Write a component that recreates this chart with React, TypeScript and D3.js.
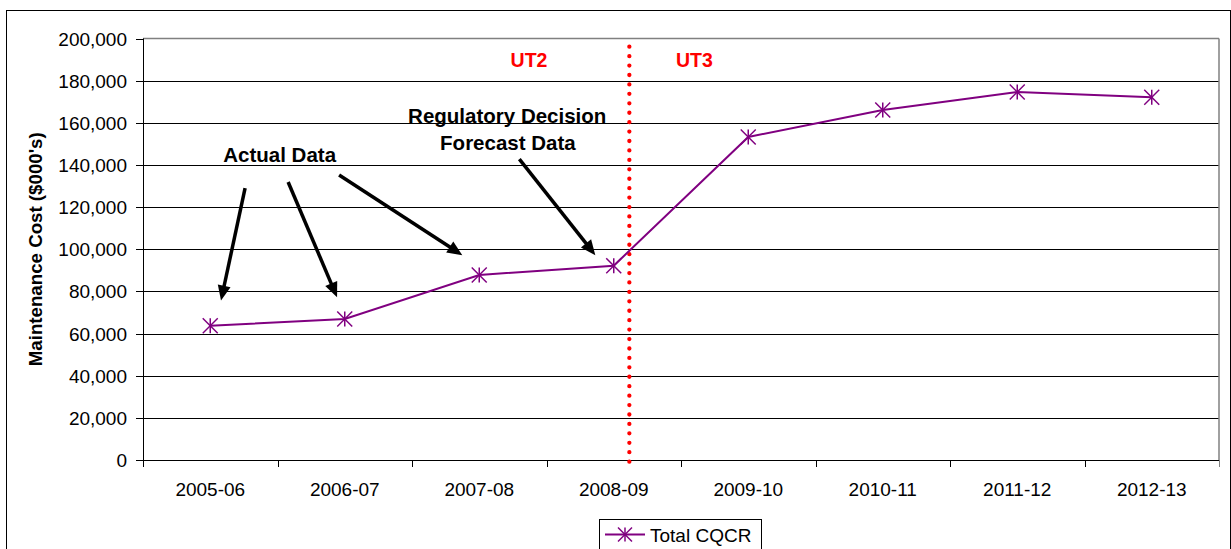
import React from "react";
import * as d3 from "d3";

const categories = ["2005-06", "2006-07", "2007-08", "2008-09", "2009-10", "2010-11", "2011-12", "2012-13"];
const totalCQCR = [63700, 66900, 87800, 92200, 153300, 166100, 174600, 172100];
const yTicks = [0, 20000, 40000, 60000, 80000, 100000, 120000, 140000, 160000, 180000, 200000];
const seriesName = "Total CQCR";
const yLabel = "Maintenance Cost ($000's)";

// divider between regulatory periods (in category-band units) and its labels
const dividerPos = 3.616;
const dividerRange = [196100, -3300];
const periodLabels = [
  { text: "UT2", t: 2.87, v: 186500 },
  { text: "UT3", t: 4.1, v: 186500 },
];

// annotation texts (t = position in category bands, v = value at baseline)
const noteTexts = [
  { text: "Regulatory Decision", t: 2.708, v: 160000 },
  { text: "Forecast Data", t: 2.713, v: 147000 },
  { text: "Actual Data", t: 1.016, v: 141300 },
];
// annotation arrows: from (t1,v1) to tip (t2,v2)
const arrows = [
  { t1: 0.759, v1: 129000, t2: 0.58, v2: 75700 },
  { t1: 1.079, v1: 131900, t2: 1.443, v2: 77200 },
  { t1: 1.458, v1: 135200, t2: 2.374, v2: 97200 },
  { t1: 2.798, v1: 142800, t2: 3.363, v2: 97200 },
];

const W = 1231;
const H = 549;
const PURPLE = "#800080";
const FONT = "'Liberation Sans', Arial, sans-serif";

function Asterisk({ cx, cy, r }: { cx: number; cy: number; r: number }) {
  return (
    <g stroke={PURPLE} strokeWidth={1.5}>
      <line x1={cx} y1={cy - r} x2={cx} y2={cy + r} />
      <line x1={cx - r} y1={cy - r} x2={cx + r} y2={cy + r} />
      <line x1={cx - r} y1={cy + r} x2={cx + r} y2={cy - r} />
    </g>
  );
}

export default function App() {
  const left = 143;
  const right = 1219;
  const top = 38.5;
  const bottom = 460;

  const x = d3.scaleBand<string>().domain(categories).range([left, right]).padding(0);
  const y = d3.scaleLinear().domain([0, 200000]).range([bottom, top]);
  const pos = (t: number) => left + t * x.step();
  const cx = (c: string) => (x(c) as number) + x.bandwidth() / 2;
  const fmt = d3.format(",");

  const line = d3
    .line<number>()
    .x((_, i) => cx(categories[i]))
    .y((d) => y(d));

  const boundaries = d3.range(categories.length + 1).map((i) => left + i * x.step());

  return (
    <svg
      width={W}
      height={H}
      style={{ position: "absolute", left: 0, top: 0, background: "#fff" }}
      fontFamily={FONT}
    >
      <rect x={0} y={0} width={W} height={H} fill="#fff" />
      {/* outer chart border */}
      <rect x={6.5} y={10.5} width={1224} height={600} fill="none" stroke="#000" strokeWidth={1} />

      {/* gridlines */}
      {yTicks
        .filter((v) => v !== 0 && v !== 200000)
        .map((v) => (
          <line key={v} x1={left} x2={right} y1={Math.round(y(v)) + 0.5} y2={Math.round(y(v)) + 0.5} stroke="#000" strokeWidth={1} />
        ))}
      {/* plot area border top/right (grey) */}
      <line x1={left} x2={right} y1={top} y2={top} stroke="#808080" strokeWidth={1.5} />
      <line x1={right} x2={right} y1={top} y2={bottom} stroke="#808080" strokeWidth={1.5} />

      {/* y axis */}
      <line x1={left + 0.5} x2={left + 0.5} y1={top} y2={bottom} stroke="#000" strokeWidth={1} />
      {yTicks.map((v) => (
        <g key={v}>
          <line x1={left - 7} x2={left} y1={Math.round(y(v)) + 0.5} y2={Math.round(y(v)) + 0.5} stroke="#000" />
          <text x={127} y={y(v) + 7} textAnchor="end" fontSize={19} fill="#000">
            {fmt(v)}
          </text>
        </g>
      ))}
      {/* x axis */}
      <line x1={left} x2={right} y1={bottom + 0.5} y2={bottom + 0.5} stroke="#000" strokeWidth={1} />
      {boundaries.map((bx, i) => (
        <line key={i} x1={Math.round(bx) + 0.5} x2={Math.round(bx) + 0.5} y1={bottom} y2={bottom + 7} stroke={i === categories.length ? "#808080" : "#000"} />
      ))}
      {categories.map((c) => (
        <text key={c} x={cx(c)} y={496} textAnchor="middle" fontSize={19} fill="#000">
          {c}
        </text>
      ))}

      {/* y label */}
      <text
        transform={`translate(42,${(top + bottom) / 2}) rotate(-90)`}
        textAnchor="middle"
        fontSize={18.7}
        fontWeight="bold"
        fill="#000"
      >
        {yLabel}
      </text>

      {/* divider */}
      <line
        x1={pos(dividerPos)}
        x2={pos(dividerPos)}
        y1={y(dividerRange[0])}
        y2={y(dividerRange[1])}
        stroke="#ff0000"
        strokeWidth={4.3}
        strokeLinecap="round"
        strokeDasharray="0 9.43"
      />
      {periodLabels.map((p) => (
        <text key={p.text} x={pos(p.t)} y={y(p.v)} textAnchor="middle" fontSize={19.5} fontWeight="bold" fill="#ff0000">
          {p.text}
        </text>
      ))}

      {/* series */}
      <path d={line(totalCQCR) || ""} fill="none" stroke={PURPLE} strokeWidth={2} />
      {totalCQCR.map((v, i) => (
        <Asterisk key={i} cx={cx(categories[i])} cy={y(v)} r={7.5} />
      ))}

      {/* annotations */}
      {noteTexts.map((n) => (
        <text key={n.text} x={pos(n.t)} y={y(n.v)} textAnchor="middle" fontSize={20.5} fontWeight="bold" fill="#000">
          {n.text}
        </text>
      ))}
      {arrows.map((a, i) => {
        const x1 = pos(a.t1);
        const y1 = y(a.v1);
        const x2 = pos(a.t2);
        const y2 = y(a.v2);
        const ang = Math.atan2(y2 - y1, x2 - x1);
        const hl = 15;
        const hw = 6.5;
        const bx = x2 - hl * Math.cos(ang);
        const by = y2 - hl * Math.sin(ang);
        const px = -Math.sin(ang);
        const py = Math.cos(ang);
        const pts = [
          [x2, y2],
          [bx + hw * px, by + hw * py],
          [bx - hw * px, by - hw * py],
        ]
          .map((p) => p.join(","))
          .join(" ");
        return (
          <g key={i}>
            <line x1={x1} y1={y1} x2={bx + 2 * Math.cos(ang)} y2={by + 2 * Math.sin(ang)} stroke="#000" strokeWidth={3.5} />
            <polygon points={pts} fill="#000" />
          </g>
        );
      })}

      {/* legend */}
      <rect x={599.5} y={519.5} width={162} height={40} fill="#fff" stroke="#000" strokeWidth={1} />
      <line x1={605} x2={645} y1={534.5} y2={534.5} stroke={PURPLE} strokeWidth={2} />
      <Asterisk cx={625} cy={534.5} r={7} />
      <text x={650} y={541.5} fontSize={19} fill="#000">
        {seriesName}
      </text>
    </svg>
  );
}
